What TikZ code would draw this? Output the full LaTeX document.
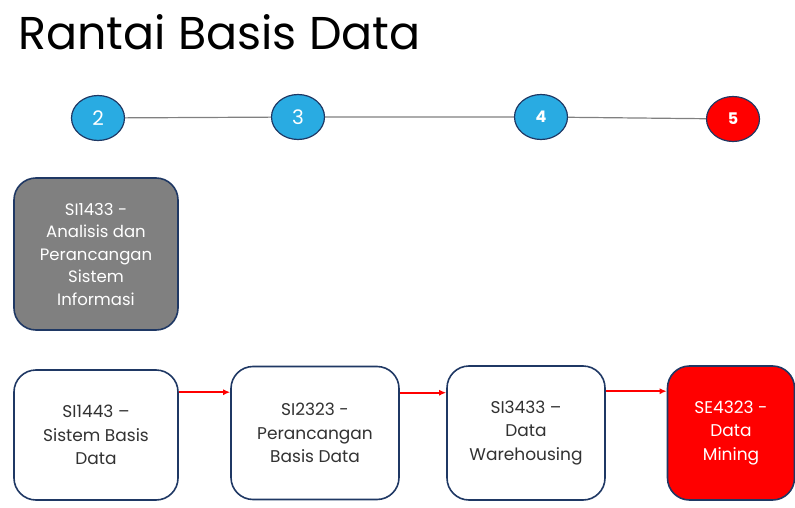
\documentclass[tikz,border=0pt]{standalone}
\usepackage{fontspec}
\setmainfont{Poppins}
\definecolor{rim}{RGB}{31,56,100}
\definecolor{skyblue}{RGB}{41,171,226}
\definecolor{mkred}{RGB}{255,0,0}
\definecolor{ink}{RGB}{50,50,50}
\tikzset{
	course/.style={draw=rim, line width=1.6pt, rounded corners=22pt, fill=white, text=ink, align=center, font=\fontsize{17}{23.5}\selectfont},
	sem/.style={draw=rim, line width=1.2pt, ellipse, fill=skyblue, text=white, minimum width=53, minimum height=45, inner sep=0pt},
	arr/.style={-{Latex[length=7pt,width=6pt]}, draw=mkred, line width=1.6pt}
}
\usetikzlibrary{shapes.geometric,arrows.meta}
\begin{document}
\begin{tikzpicture}[x=1pt,y=-1pt]
	\useasboundingbox (0,0) rectangle (795,508);
	\node[anchor=base west, inner sep=0pt, font=\fontsize{46}{50}\selectfont] (title) at (18,50) {Rantai Basis Data};

	% semester
	\node[sem, font=\fontsize{20}{20}\selectfont] (s2) at (98,118) {2};
	\node[sem, font=\fontsize{20}{20}\selectfont] (s3) at (298,117) {3};
	\node[sem, font=\bfseries\fontsize{16}{16}\selectfont] (s4) at (541,117) {4};
	\node[sem, fill=mkred, font=\bfseries\fontsize{16}{16}\selectfont] (s5) at (733,119) {5};
	\draw[gray, line width=1.2pt] (s2) -- (s3) -- (s4) -- (s5);

	% mata kuliah
	\node[course, fill=gray, text=white, minimum width=164, minimum height=152, font=\fontsize{16.5}{22.5}\selectfont] (si1433) at (96,254) {SI1433 -\\Analisis dan\\Perancangan\\Sistem\\Informasi};
	\node[course, minimum width=164, minimum height=130] (si1443) at (96,435) {SI1443 --\\Sistem Basis\\Data};
	\node[course, minimum width=168, minimum height=133] (si2323) at (315,433) {SI2323 -\\Perancangan\\Basis Data};
	\node[course, minimum width=158, minimum height=134] (si3433) at (526,433) {SI3433 --\\Data\\Warehousing};
	\node[course, fill=mkred, text=white, minimum width=127, minimum height=134] (se4323) at (731,433) {SE4323 -\\Data\\Mining};

	\draw[arr] ([yshift=-23]si1443.north east) -- ([yshift=-23]si1443.north east -| si2323.west);
	\draw[arr] ([yshift=-27]si2323.north east) -- ([yshift=-27]si2323.north east -| si3433.west);
	\draw[arr] ([yshift=-26]si3433.north east) -- ([yshift=-26]si3433.north east -| se4323.west);
\end{tikzpicture}
\end{document}
